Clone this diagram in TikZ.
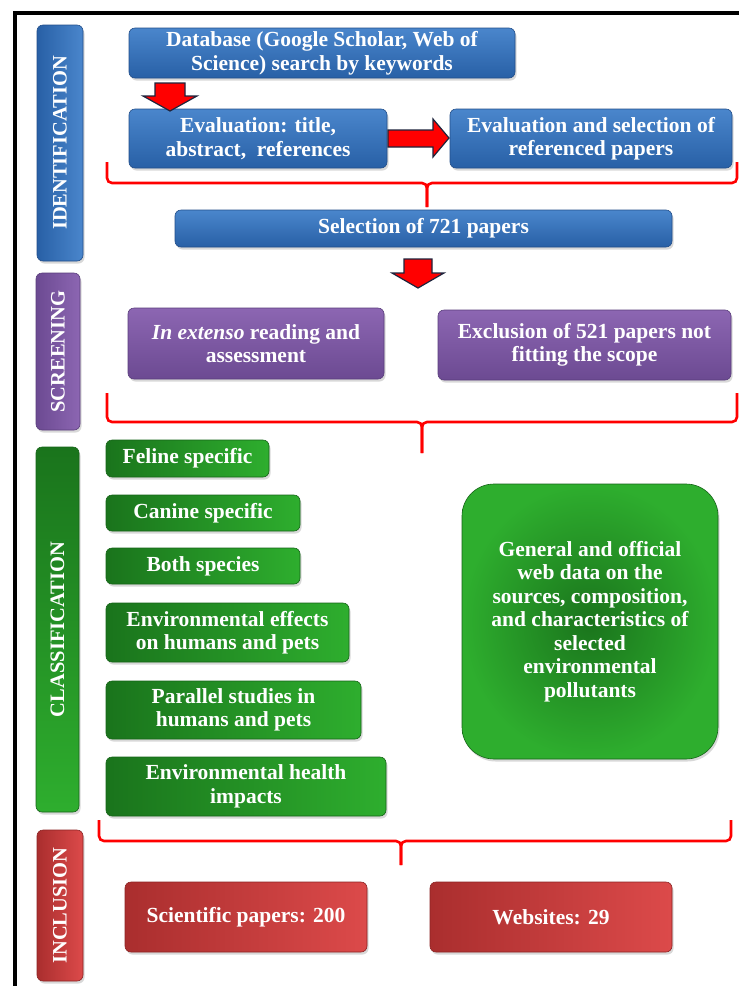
\documentclass[tikz,border=0pt]{standalone}
\usepackage{fontspec}
\setmainfont{Liberation Serif}
\usetikzlibrary{shadows}
\definecolor{blueT}{RGB}{74,134,204}
\definecolor{blueB}{RGB}{40,96,166}
\definecolor{blueE}{RGB}{34,78,138}
\definecolor{purT}{RGB}{140,102,178}
\definecolor{purB}{RGB}{108,74,146}
\definecolor{purE}{RGB}{90,62,124}
\definecolor{grnD}{RGB}{26,116,28}
\definecolor{grnL}{RGB}{46,174,46}
\definecolor{grnE}{RGB}{22,100,24}
\definecolor{redD}{RGB}{170,46,46}
\definecolor{redL}{RGB}{220,74,74}
\definecolor{redE}{RGB}{140,36,36}
\definecolor{arrRed}{RGB}{255,0,0}
\definecolor{arrEdge}{RGB}{30,36,60}
\definecolor{brRed}{RGB}{255,0,0}
\newcommand{\bx}[7]{\node[#6, minimum width={#4-#2}, minimum height={#5-#3}] (#1) at ({(#2+#4)/2},{(#3+#5)/2}) {#7};}
\tikzset{
  base/.style={rounded corners=6pt, text=white, font=\fontsize{21.5}{23.5}\selectfont\bfseries,
    align=center, inner sep=0pt, line width=0.6pt,
    drop shadow={opacity=0.3, shadow xshift=1.5pt, shadow yshift=-2.5pt}},
  bluebox/.style={base, top color=blueT, bottom color=blueB, draw=blueE},
  purbox/.style={base, top color=purT, bottom color=purB, draw=purE},
  grnbox/.style={base, left color=grnD, right color=grnL, draw=grnE},
  redbox/.style={base, left color=redD, right color=redL, draw=redE},
  bigbox/.style={base, rounded corners=32pt, inner color=grnD, outer color=grnL, draw=grnE},
  sidebar/.style={rounded corners=6pt, inner sep=0pt, line width=0.6pt,
    drop shadow={opacity=0.3, shadow xshift=1.5pt, shadow yshift=-2.5pt}},
  sideblue/.style={sidebar, left color=blueB, right color=blueT, draw=blueE},
  sidepur/.style={sidebar, left color=purB, right color=purT, draw=purE},
  sidegrn/.style={sidebar, top color=grnD, bottom color=grnL, draw=grnE},
  sidered/.style={sidebar, left color=redD, right color=redL, draw=redE},
  sidelabel/.style={text=white, font=\fontsize{20.5}{22}\selectfont\bfseries, inner sep=0pt},
  blockarrow/.style={fill=arrRed, draw=arrEdge, line width=1.2pt, line join=miter},
  brace/.style={draw=brRed, line width=2.6pt, rounded corners=5pt},
}
\begin{document}
\begin{tikzpicture}[x=1pt,y=-1pt]
\useasboundingbox (0,0) rectangle (739,986);
\fill[white] (0,0) rectangle (739,986);
% frame
\draw[line width=3.5pt, line join=miter] (15,986) -- (15,13) -- (739,13);

% side bars
\bx{sideI}{37}{25}{83}{261}{sideblue}{}
\node[sidelabel, rotate=90] (lblI) at (sideI) {IDENTIFICATION};
\bx{sideS}{36}{273}{80}{430}{sidepur}{}
\node[sidelabel, rotate=90] (lblS) at (sideS) {SCREENING};
\bx{sideC}{36}{447}{79}{812}{sidegrn}{}
\node[sidelabel, rotate=90] (lblC) at (sideC) {CLASSIFICATION};
\bx{sideR}{37}{830}{83}{981}{sidered}{}
\node[sidelabel, rotate=90] (lblR) at (sideR) {INCLUSION};

% identification
\bx{db}{129}{28}{515}{78}{bluebox}{Database (Google Scholar, Web of\\Science) search by keywords}
\bx{ev1}{129}{109}{387}{168}{bluebox}{Evaluation: title,\\abstract,\ \ references}
\bx{ev2}{450}{109}{732}{168}{bluebox}{Evaluation and selection of\\referenced papers}
\bx{sel}{175}{210}{672}{247}{bluebox}{Selection of 721 papers}

% screening
\bx{ext}{128}{308}{384}{379}{purbox}{\textit{In extenso} reading and\\assessment}
\bx{exc}{438}{310}{731}{380}{purbox}{Exclusion of 521 papers not\\fitting the scope}

% classification
\bx{fel}{106}{440}{269}{477}{grnbox}{Feline specific}
\bx{can}{106}{495}{300}{531}{grnbox}{Canine specific}
\bx{both}{106}{548}{300}{584}{grnbox}{Both species}
\bx{env}{106}{603}{349}{662}{grnbox}{Environmental effects\\on humans and pets}
\bx{par}{106}{681}{361}{739}{grnbox}{Parallel studies in\\humans and pets}
\bx{hea}{106}{757}{386}{816}{grnbox}{Environmental health\\impacts}
\bx{gen}{462}{484}{718}{759}{bigbox}{General and official\\web data on the\\sources, composition,\\and characteristics of\\selected\\environmental\\pollutants}

% inclusion
\bx{sci}{125}{882}{367}{952}{redbox}{Scientific papers: 200}
\bx{web}{430}{882}{672}{952}{redbox}{Websites: 29}

% block arrows
\draw[blockarrow] (155,83) -- (185,83) -- (185,96) -- (197,96) -- (170,111) -- (143,96) -- (155,96) -- cycle;
\draw[blockarrow] (388,130) -- (433,130) -- (433,119) -- (449,138) -- (433,157) -- (433,147) -- (388,147) -- cycle;
\draw[blockarrow] (404,259) -- (432,259) -- (432,273) -- (444,273) -- (418,288) -- (392,273) -- (404,273) -- cycle;

% braces
\coordinate (b1L) at (107,162); \coordinate (b1R) at (737,162); \coordinate (b1M) at (427,207);
\draw[brace] (b1L) -- (107,183) -- (427,183) -- (b1M);
\draw[brace] (b1R) -- (737,183) -- (427,183) -- (b1M);
\coordinate (b2L) at (107,393); \coordinate (b2R) at (737,393); \coordinate (b2M) at (422,453);
\draw[brace] (b2L) -- (107,422) -- (422,422) -- (b2M);
\draw[brace] (b2R) -- (737,422) -- (422,422) -- (b2M);
\coordinate (b3L) at (99,820); \coordinate (b3R) at (731,820); \coordinate (b3M) at (401,865);
\draw[brace] (b3L) -- (99,841) -- (401,841) -- (b3M);
\draw[brace] (b3R) -- (731,841) -- (401,841) -- (b3M);
\end{tikzpicture}
\end{document}
